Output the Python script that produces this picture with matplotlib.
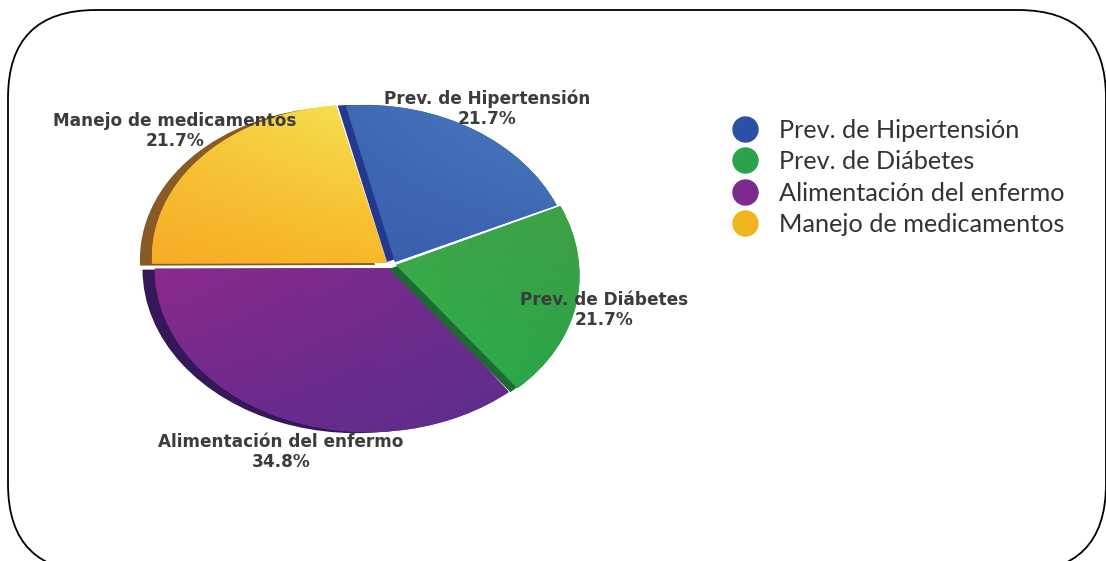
import numpy as np
import matplotlib
matplotlib.use("Agg")
import matplotlib.pyplot as plt
from matplotlib.transforms import Transform, Affine2D
from matplotlib.patches import FancyBboxPatch
from matplotlib.lines import Line2D

categories = ["Prev. de Hipertensión", "Prev. de Diábetes",
              "Alimentación del enfermo", "Manejo de medicamentos"]
values = [21.7, 21.7, 34.8, 21.7]

legend_colors = ["#2c50a6", "#2ba34d", "#7c2a90", "#f0b51e"]
shadow_colors = ["#24388f", "#1d6a35", "#34185a", "#8a5a24"]
# corner colours of each slice's shading: top-left, top-right, bottom-left, bottom-right
shades = [["#3f69b4", "#4a7cc2", "#3a5fae", "#3c62ae"],
          ["#3fa648", "#3f9f48", "#2fb04a", "#2aa347"],
          ["#8a2a8c", "#6e2c8c", "#6c2a8c", "#5c2e8c"],
          ["#f8c83a", "#f4e452", "#f6ac26", "#f8b82a"]]

# layout of the slices in pixels: apex x, apex y, x scale, y scale, x shear
placement = [(395, 262, 199, 156, -0.044), (396, 265, 205, 162, -0.08),
             (394, 268, 211, 163, 0.0), (387, 263, 207, 157, -0.044)]
shadow_shift = [(-8, 0), (-7, 4), (-12, 1), (-12, 2)]
start_angle = 102
perspective = 0.119


class Perspective(Transform):
    input_dims = output_dims = 2
    is_separable = False
    has_inverse = False

    def __init__(self, k):
        super().__init__()
        self.k = k

    def transform_non_affine(self, v):
        v = np.asarray(v, dtype=float)
        return v / (1 + self.k * v[:, 0])[:, None]


fig = plt.figure(figsize=(11.06, 5.61), dpi=100, facecolor="white")
ax = fig.add_axes([0, 0, 1, 1])


def slice_transform(i, dx=0, dy=0):
    x, y, sx, sy, shear = placement[i]
    warp = Affine2D(np.array([[sx, shear * sy, x + dx], [0, -sy, y + dy], [0, 0, 1]]))
    return Perspective(perspective) + warp + ax.transData


shadows, _ = ax.pie(values, startangle=start_angle, counterclock=False, colors=shadow_colors)
mains, _ = ax.pie(values, startangle=start_angle, counterclock=False, colors=legend_colors)

draw_order = [3, 2, 1, 0]
for z, i in enumerate(draw_order):
    s = shadows[i]
    s.set_transform(slice_transform(i, *shadow_shift[i]))
    s.set_zorder(2 + z * 2)
    s.set_linewidth(0)
    m = mains[i]
    m.set_transform(slice_transform(i))
    m.set_zorder(3 + z * 2)
    m.set_linewidth(0)
    corners = np.array([matplotlib.colors.to_rgb(c) for c in shades[i]])
    t = np.linspace(0, 1, 64)
    u, w = np.meshgrid(t, t)
    img = ((1 - u) * (1 - w))[..., None] * corners[0] + (u * (1 - w))[..., None] * corners[1] \
        + ((1 - u) * w)[..., None] * corners[2] + (u * w)[..., None] * corners[3]
    verts = m.get_transform().transform(m.get_path().vertices)
    verts = ax.transData.inverted().transform(verts)
    x0, x1 = verts[:, 0].min(), verts[:, 0].max()
    y0, y1 = verts[:, 1].min(), verts[:, 1].max()
    im = ax.imshow(img, extent=(x0, x1, y1, y0), origin="upper", aspect="auto",
                   interpolation="bilinear", zorder=3.5 + z * 2)
    im.set_clip_path(m)

ax.set_aspect("auto")
ax.set_xlim(0, 1106)
ax.set_ylim(561, 0)
ax.axis("off")

# rounded frame (a filled patch keeps agg from clipping its curve control points)
ax.add_patch(FancyBboxPatch((8, 10), 1098, 562, boxstyle="round,pad=0,rounding_size=88",
                            fc="white", ec="black", lw=1.3, zorder=1, clip_on=False))

# slice labels
label_pos = [(487, 109), (604, 310), (281, 452), (175, 131)]
for name, v, (x, y) in zip(categories, values, label_pos):
    ax.text(x, y, f"{name}\n{v:.1f}%", ha="center", va="center", fontsize=12.2,
            family="DejaVu Sans", weight="bold", color="#3c3c3c", linespacing=1.15, zorder=30)

# legend
handles = [Line2D([], [], ls="none", marker="o", ms=18, mfc=c, mec=c) for c in legend_colors]
ax.legend(handles, categories, loc="upper left", bbox_to_anchor=(725 / 1106, 1 - 119 / 561),
          frameon=False, prop={"family": "Lato", "size": 18.2}, labelcolor="#333333",
          labelspacing=0.33, handletextpad=0.55, handlelength=1.6, borderpad=0, borderaxespad=0)

fig.savefig("out.png", dpi=100)
